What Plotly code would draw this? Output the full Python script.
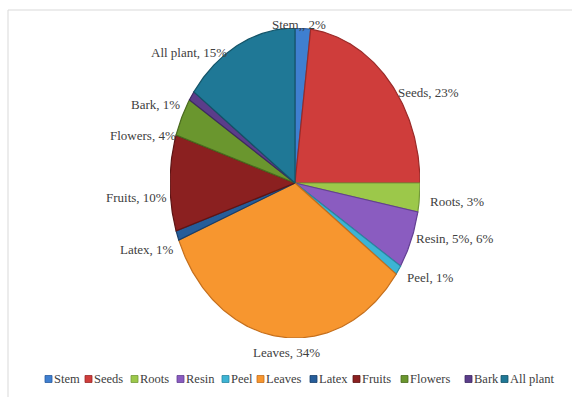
import numpy as np
import plotly.graph_objects as go

# Plant parts used, share of reported uses (%)
categories = ["Stem", "Seeds", "Roots", "Resin", "Peel", "Leaves",
              "Latex", "Fruits", "Flowers", "Bark", "All plant"]
values = [2, 23, 3, 6, 1, 34, 1, 10, 4, 1, 15]
slice_labels = ["Stem,, 2%", "Seeds, 23%", "Roots, 3%", "Resin, 5%, 6%",
                "Peel, 1%", "Leaves, 34%", "Latex, 1%", "Fruits, 10%",
                "Flowers, 4%", "Bark, 1%", "All plant, 15%"]
colors = ["#3F7FD0", "#CF3D3B", "#9CC84A", "#8A5CC0", "#3DB4D4", "#F7962F",
          "#265D9A", "#8B2020", "#6A962E", "#5B3D8A", "#1F7896"]
edges = ["#2A5C9E", "#9A2A28", "#74993A", "#633F93", "#2A88A2", "#C56F1C",
         "#183F6B", "#5E1414", "#4A6B1E", "#3D2862", "#145468"]

W, H = 572, 397
FONT = "'Liberation Serif', 'Times New Roman', 'DejaVu Serif', serif"
TEXT = "#404040"

# pixel placement of the pie (ellipse) and of the slice labels
pie_left, pie_right, pie_top, pie_bottom = 170, 420, 28, 338
label_px = [(299, 24), (428, 92), (457, 201), (454, 238), (430, 277),
            (286, 352), (147, 250), (136, 197), (143, 135), (155, 104),
            (189, 52)]
legend_px = [45, 85, 131, 177, 222, 257, 310, 353, 401, 465, 501]
legend_y = 379

fig = go.Figure()

# slices: clockwise from 12 o'clock, unit circle stretched by the axis domains
total = float(sum(values))
start = 0.0
for cat, val, col, edge in zip(categories, values, colors, edges):
    a0 = start / total * 2 * np.pi
    a1 = (start + val) / total * 2 * np.pi
    start += val
    n = max(8, int(val * 6))
    th = np.linspace(a0, a1, n)
    xs = np.concatenate([[0.0], np.sin(th), [0.0]])
    ys = np.concatenate([[0.0], np.cos(th), [0.0]])
    fig.add_trace(go.Scatter(
        x=xs, y=ys, mode="lines", fill="toself", fillcolor=col,
        line=dict(color=edge, width=1.2), name=cat, showlegend=False,
        hoverinfo="name"))

# slice labels
for txt, (px, py) in zip(slice_labels, label_px):
    fig.add_annotation(x=px / W, y=1 - py / H, xref="paper", yref="paper",
                       text=txt, showarrow=False, xanchor="center",
                       yanchor="middle",
                       font=dict(family=FONT, size=13, color=TEXT))

shapes = []
# chart frame
shapes.append(dict(type="rect", xref="paper", yref="paper",
                   x0=8 / W, x1=1.05, y0=-0.05, y1=1 - 10 / H,
                   line=dict(color="#D9D9D9", width=1), fillcolor="rgba(0,0,0,0)"))

# legend: swatch + name
sw = 7
for cat, col, edge, lx in zip(categories, colors, edges, legend_px):
    shapes.append(dict(type="rect", xref="paper", yref="paper",
                       x0=lx / W, x1=(lx + sw) / W,
                       y0=1 - (legend_y + sw / 2) / H,
                       y1=1 - (legend_y - sw / 2) / H,
                       fillcolor=col, line=dict(color=edge, width=0.8)))
    fig.add_annotation(x=(lx + sw) / W, y=1 - legend_y / H,
                       xref="paper", yref="paper", text=cat, showarrow=False,
                       xanchor="left", yanchor="middle",
                       font=dict(family=FONT, size=12.5, color=TEXT))

fig.update_layout(
    width=W, height=H, margin=dict(l=0, r=0, t=0, b=0),
    paper_bgcolor="white", plot_bgcolor="white",
    showlegend=False, shapes=shapes,
    font=dict(family=FONT, color=TEXT),
    xaxis=dict(domain=[pie_left / W, pie_right / W], range=[-1, 1],
               visible=False, fixedrange=True),
    yaxis=dict(domain=[1 - pie_bottom / H, 1 - pie_top / H], range=[-1, 1],
               visible=False, fixedrange=True),
)

fig.write_html("out.html")
